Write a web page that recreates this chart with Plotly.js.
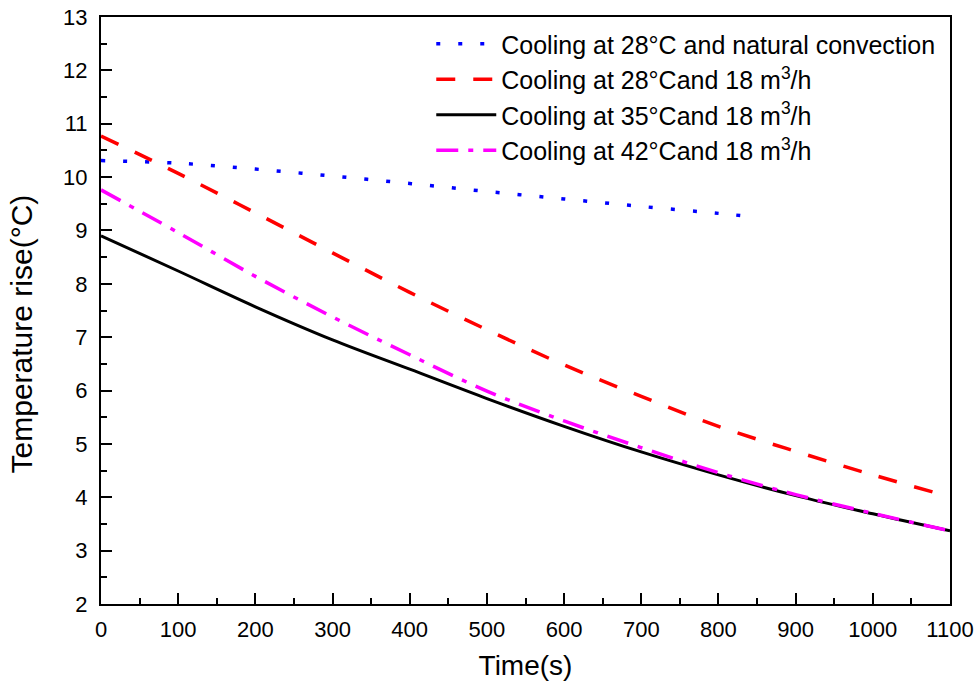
<!DOCTYPE html>
<html>
<head>
<meta charset="utf-8">
<script src="https://cdn.plot.ly/plotly-3.0.1.min.js"></script>
<style>html,body{margin:0;padding:0;background:#fff;}#chart{width:979px;height:690px;}</style>
</head>
<body>
<div id="chart"></div>
<script>
// Data
const timeNatural = [0, 100, 200, 300, 400, 500, 600, 700, 800, 835];
const riseNatural28 = [10.31, 10.26, 10.15, 10.02, 9.88, 9.73, 9.59, 9.45, 9.32, 9.27];

const timeForced = [0, 100, 200, 300, 400, 500, 600, 700, 800, 900, 1000, 1100];
const riseForced28 = [10.77, 10.07, 9.33, 8.58, 7.84, 7.14, 6.48, 5.89, 5.33, 4.86, 4.42, 4.01];
const riseForced35 = [8.90, 8.24, 7.57, 6.95, 6.40, 5.85, 5.33, 4.85, 4.42, 4.03, 3.69, 3.37];
const riseForced42 = [9.76, 8.96, 8.14, 7.38, 6.67, 5.99, 5.43, 4.93, 4.46, 4.05, 3.70, 3.37];

const seriesNames = [
  'Cooling at 28°C and natural convection',
  'Cooling at 28°Cand 18 m<sup>3</sup>/h',
  'Cooling at 35°Cand 18 m<sup>3</sup>/h',
  'Cooling at 42°Cand 18 m<sup>3</sup>/h'
];
const xTitle = 'Time(s)';
const yTitle = 'Temperature rise(°C)';

const font = 'Liberation Sans, Arial, sans-serif';

const traces = [
  {x: timeNatural, y: riseNatural28, name: seriesNames[0], mode: 'lines',
   line: {color: '#0000ff', width: 3.5, dash: '4px,18px', shape: 'spline'}},
  {x: timeForced, y: riseForced28, name: seriesNames[1], mode: 'lines',
   line: {color: '#ff0000', width: 3.5, dash: '19px,18px', shape: 'spline'}},
  {x: timeForced, y: riseForced35, name: seriesNames[2], mode: 'lines',
   line: {color: '#000000', width: 3, shape: 'spline'}},
  {x: timeForced, y: riseForced42, name: seriesNames[3], mode: 'lines',
   line: {color: '#ff00ff', width: 3.5, dash: '22px,10px,5px,10px', shape: 'spline'}}
];

const axisCommon = {
  showline: true, linecolor: '#000', linewidth: 2, mirror: true,
  ticks: 'inside', ticklen: 11, tickwidth: 2, tickcolor: '#000',
  showgrid: false, zeroline: false,
  tickfont: {family: font, size: 22, color: '#000'}
};

const layout = {
  width: 979, height: 690,
  margin: {l: 101, r: 29, t: 17, b: 86},
  paper_bgcolor: '#fff', plot_bgcolor: '#fff',
  showlegend: true,
  legend: {x: 0.389, xanchor: 'left', y: 0.993, yanchor: 'top',
           bgcolor: 'rgba(0,0,0,0)', borderwidth: 0, itemwidth: 60,
           font: {family: font, size: 25, color: '#000'}, tracegroupgap: 0},
  xaxis: Object.assign({}, axisCommon, {
    range: [0, 1100], dtick: 100, tick0: 0, ticklabelstandoff: 5,
    minor: {ticks: 'inside', ticklen: 6, tickwidth: 2, tickcolor: '#000', dtick: 50, showgrid: false},
    title: {text: xTitle, font: {family: font, size: 28, color: '#000'}, standoff: 14}
  }),
  yaxis: Object.assign({}, axisCommon, {
    range: [2, 13], dtick: 1, tick0: 2, ticklabelstandoff: 7,
    minor: {ticks: 'inside', ticklen: 6, tickwidth: 2, tickcolor: '#000', dtick: 0.5, showgrid: false},
    title: {text: ''}
  }),
  annotations: [{
    text: yTitle, xref: 'paper', yref: 'paper', x: -0.0925, y: 0.46,
    xanchor: 'center', yanchor: 'middle', textangle: -90, showarrow: false,
    font: {family: font, size: 30, color: '#000'}
  }]
};

Plotly.newPlot('chart', traces, layout, {displayModeBar: false, staticPlot: true});
</script>
</body>
</html>
